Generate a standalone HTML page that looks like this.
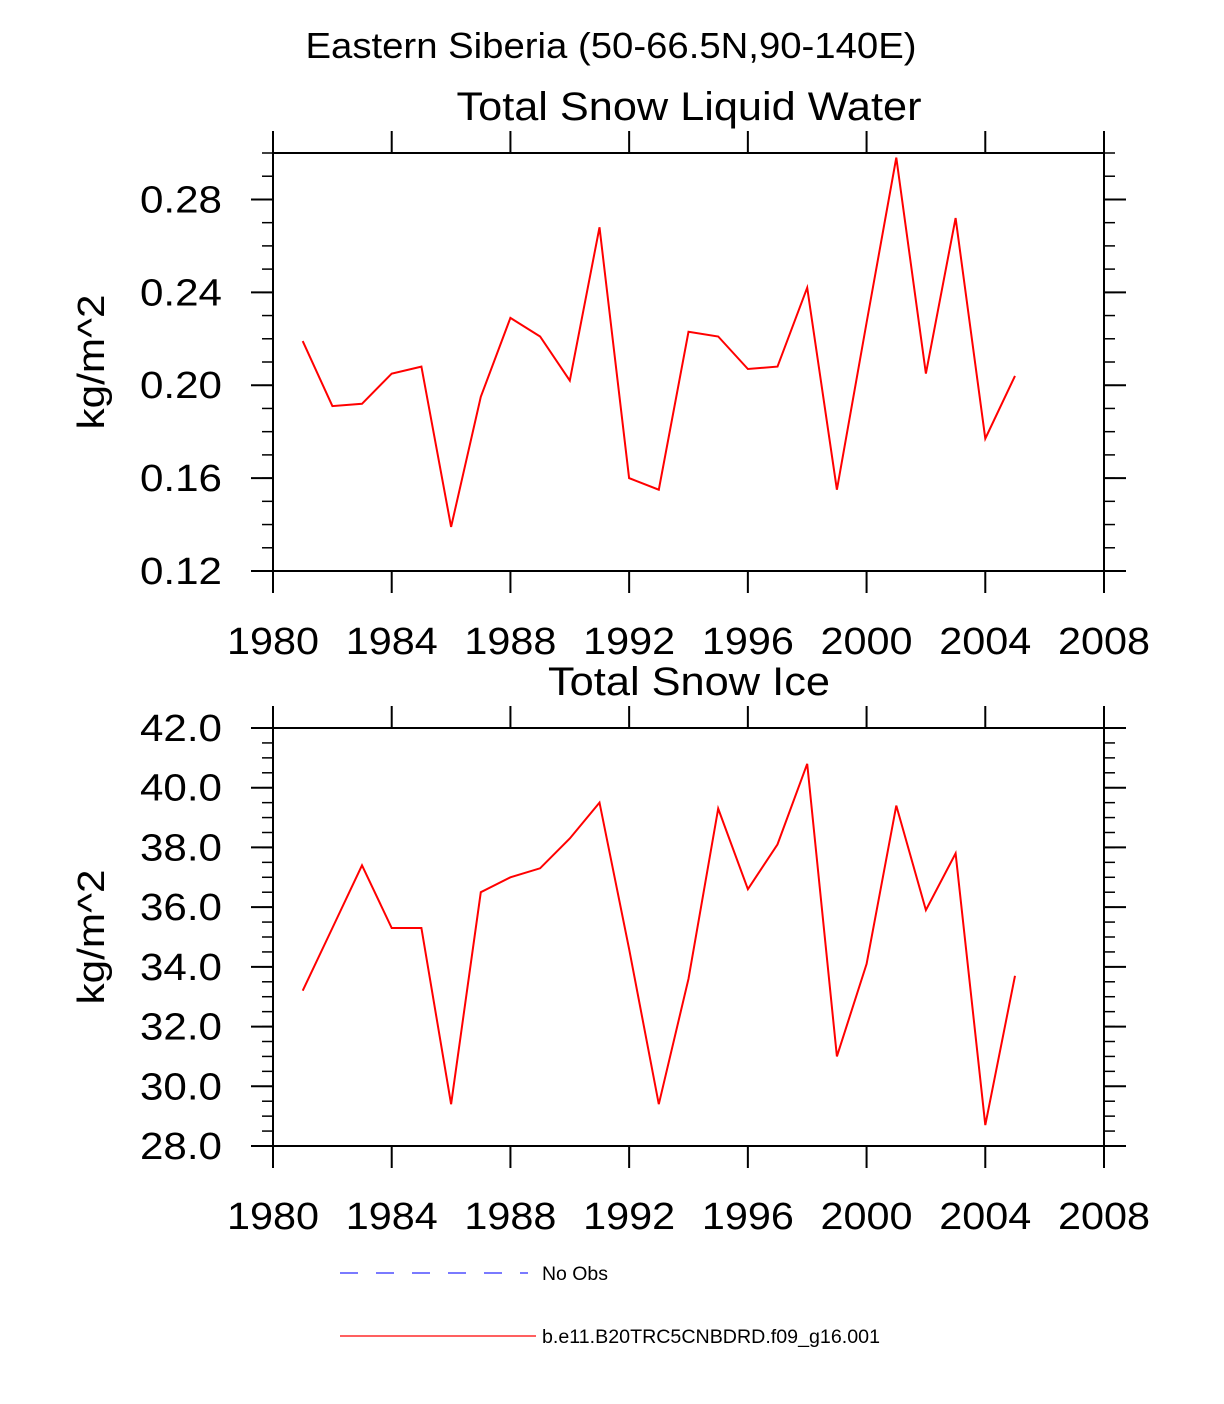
<!DOCTYPE html>
<html><head><meta charset="utf-8">
<style>
body{margin:0;background:#fff;}
svg{display:block;font-family:"Liberation Sans",sans-serif;}
</style></head>
<body>
<svg id="chart" width="1224" height="1404" xmlns="http://www.w3.org/2000/svg">
<text x="611" y="58" font-size="36" text-anchor="middle" textLength="611" lengthAdjust="spacingAndGlyphs">Eastern Siberia (50-66.5N,90-140E)</text>
<g id="legend">
<line x1="340" y1="1273" x2="528" y2="1273" stroke="#2a2aff" stroke-width="1.2" stroke-dasharray="18,18"/>
<text x="542" y="1280" font-size="19" textLength="66" lengthAdjust="spacingAndGlyphs">No Obs</text>
<line x1="340" y1="1336" x2="536" y2="1336" stroke="red" stroke-width="1.2"/>
<text x="542" y="1343" font-size="19" textLength="338" lengthAdjust="spacingAndGlyphs">b.e11.B20TRC5CNBDRD.f09_g16.001</text>
</g>
</svg>
<script>
const years = [1981,1982,1983,1984,1985,1986,1987,1988,1989,1990,1991,1992,1993,1994,1995,1996,1997,1998,1999,2000,2001,2002,2003,2004,2005];
const liquidWater = [0.219,0.191,0.192,0.205,0.208,0.139,0.195,0.229,0.221,0.202,0.268,0.160,0.155,0.223,0.221,0.207,0.208,0.242,0.155,0.227,0.298,0.205,0.272,0.177,0.204];
const snowIce = [33.2,35.3,37.4,35.3,35.3,29.4,36.5,37.0,37.3,38.3,39.5,34.6,29.4,33.6,39.3,36.6,38.1,40.8,31.0,34.1,39.4,35.9,37.8,28.7,33.7];
const xTicks = [1980,1984,1988,1992,1996,2000,2004,2008];
const yTicksTop = [0.12,0.16,0.20,0.24,0.28];
const yTicksBottom = [28,30,32,34,36,38,40,42];

const NS='http://www.w3.org/2000/svg';
const svg=document.getElementById('chart');
function el(tag,attrs,parent){const e=document.createElementNS(NS,tag);for(const k in attrs)e.setAttribute(k,attrs[k]);(parent||svg).appendChild(e);return e;}

function panel(cfg){
  const {top,bottom,ymin,ymax,minorStep,yTicks,dec,values,title,titleLen,name}=cfg;
  const L=273,R=1104;
  const g=el('g',{});
  
  
  const xs=v=>L+(v-1980)/(2008-1980)*(R-L);
  const ys=v=>bottom-(v-ymin)/(ymax-ymin)*(bottom-top);
  const t=el('text',{x:689,y:top-33,'font-size':40,'text-anchor':'middle',textLength:titleLen,lengthAdjust:'spacingAndGlyphs'},g);
  t.textContent=title;
  
  
  const fr=el('rect',{x:L,y:top,width:R-L,height:bottom-top,fill:'none',stroke:'#000','stroke-width':2},g);
  
  
  const n=Math.round((ymax-ymin)/minorStep);
  for(let i=0;i<=n;i++){
    const y=ys(ymin+i*minorStep);
    el('line',{x1:L-11,x2:L,y1:y,y2:y,stroke:'#000','stroke-width':1.5},g);
    el('line',{x1:R,x2:R+11,y1:y,y2:y,stroke:'#000','stroke-width':1.5},g);
  }
  yTicks.forEach(v=>{
    const y=ys(v);
    el('line',{x1:L-22,x2:L,y1:y,y2:y,stroke:'#000','stroke-width':2},g);
    el('line',{x1:R,x2:R+22,y1:y,y2:y,stroke:'#000','stroke-width':2},g);
    const lb=el('text',{x:L-51,y:y+13,'font-size':38,'text-anchor':'end',textLength:82,lengthAdjust:'spacingAndGlyphs'},g);
    lb.textContent=v.toFixed(dec);
    
    
  });
  xTicks.forEach(v=>{
    const x=xs(v);
    el('line',{x1:x,x2:x,y1:top-22,y2:top,stroke:'#000','stroke-width':2},g);
    el('line',{x1:x,x2:x,y1:bottom,y2:bottom+22,stroke:'#000','stroke-width':2},g);
    const lb=el('text',{x:x,y:bottom+83,'font-size':38,'text-anchor':'middle',textLength:92,lengthAdjust:'spacingAndGlyphs'},g);
    lb.textContent=v;
    
    
  });
  const yl=el('text',{x:0,y:0,'font-size':38,'text-anchor':'middle',textLength:135,lengthAdjust:'spacingAndGlyphs',transform:`translate(104,${(top+bottom)/2}) rotate(-90)`},g);
  yl.textContent='kg/m^2';
  
  
  const pts=years.map((yr,i)=>xs(yr).toFixed(1)+','+ys(values[i]).toFixed(1)).join(' ');
  const pl=el('polyline',{points:pts,fill:'none',stroke:'red','stroke-width':2,'stroke-linejoin':'miter'},g);
  
  
}
panel({top:153,bottom:571,ymin:0.12,ymax:0.30,minorStep:0.01,yTicks:yTicksTop,dec:2,values:liquidWater,title:'Total Snow Liquid Water',titleLen:465,name:'liquid-water-panel'});
panel({top:728,bottom:1146,ymin:28,ymax:42,minorStep:0.5,yTicks:yTicksBottom,dec:1,values:snowIce,title:'Total Snow Ice',titleLen:282,name:'snow-ice-panel'});
</script>
</body></html>
